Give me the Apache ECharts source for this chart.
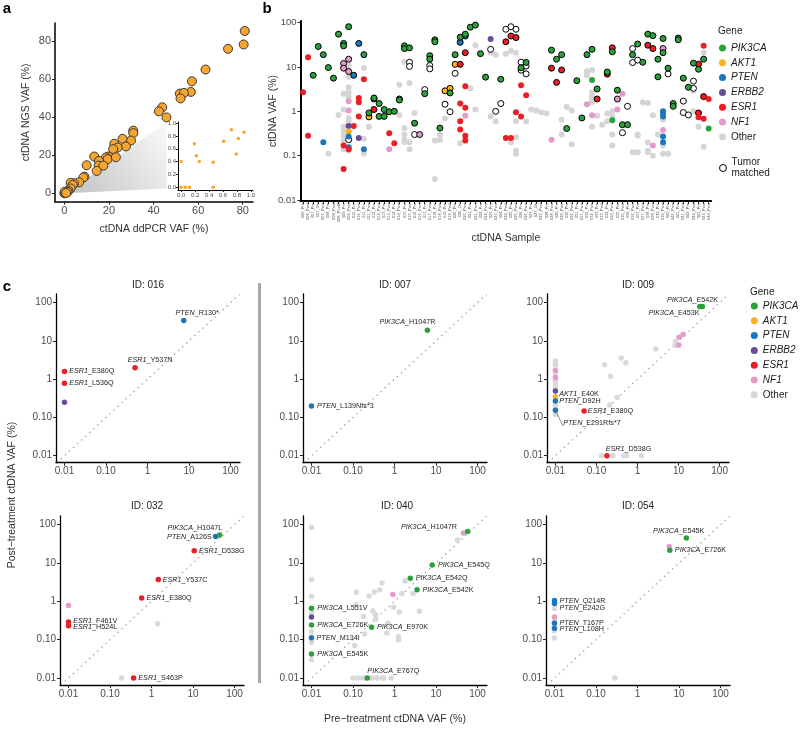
<!DOCTYPE html>
<html>
<head>
<meta charset="utf-8">
<script src="https://cdn.jsdelivr.net/npm/echarts@6.0.0/dist/echarts.min.js"></script>
<style>
html,body{margin:0;padding:0;background:#ffffff;}
#chart{width:800px;height:735px;}
</style>
</head>
<body>
<div id="chart"></div>
<script>
// ======================= DATA =======================
// Panel a: [ddPCR VAF %, NGS VAF %]
const aMain = [[80.9,85.5],[80.4,78.4],[73.4,76.1],[63.3,65.2],[57.2,59.0],[56.7,53.4],[51.8,52.5],[53.6,52.9],[52.1,50.0],
  [43.9,45.3],[42.4,43.2],[45.8,40.0],[30.9,33.0],[30.9,31.7],[29.9,27.8],[26.1,28.7],[27.6,24.7],[22.4,26.1],[23.9,24.1],
  [21.9,23.3],[19.7,19.4],[18.7,18.9],[19.4,18.0],[23.1,19.0],[13.4,19.4],[15.5,17.1],[15.4,14.6],[17.5,14.6],[14.5,11.8],
  [10.0,14.8],[9.0,8.8],[8.5,8.3],[6.6,5.8],[4.3,5.3],[2.8,5.5],[3.7,4.4],[2.8,2.6],[1.8,1.4],[1.0,0.5],[0,0],[0.5,0.3],
  [0.2,0.9],[1.4,0.8],[0.8,0.2]];
// Inset (0-1 % range)
const aInset = [[0,0.4],[0,0],[0.06,0],[0.12,0],[0.19,0.68],[0.22,0.49],[0.26,0.4],[0.46,0.39],[0.46,0],[0.61,0.72],
  [0.72,0.9],[0.82,0.76],[0.79,0.52],[0.9,0.86]];
// zoom wedge vertices (data space of panel a)
const aWedge = [[1.1,0],[45.9,37.8],[45.9,2.6]];
const aTicks = [0, 20, 40, 60, 80];
const aInsetTicks = [0, 0.2, 0.4, 0.6, 0.8, 1.0];

// Panel b: sample names
const sampleLabels = ['006_Pre','006_Post','007_Pre','007_On','007_Post','008_Pre','008_Post','008_Post2','009_Pre','009_Post',
  '010_Pre','010_Post','011_Pre','011_Post','012_Pre','012_Post','013_Pre','013_Post','014_Pre','014_Post','015_Pre','015_Post',
  '016_Pre','016_Post','017_Pre','017_Post','018_Pre','018_Post','019_Pre','019_Post','020_Pre','020_On','020_Post',
  '021_Pre','021_Post','022_Pre','022_Post','023_Pre','023_Post','024_Pre','024_Post','025_Pre','025_Post','026_Pre','026_Post',
  '027_Pre','027_On','027_Post','028_Pre','028_Post','029_Pre','029_Post','030_Pre','030_Post','031_Pre','031_Post',
  '032_Pre','032_Post','033_Pre','033_Post','034_Pre','034_Post','035_Pre','035_Post','036_Pre','036_Post','037_Pre','037_Post',
  '038_Pre','038_Post','039_Pre','039_Post','040_Pre','040_Post','041_Pre','041_Post','042_Pre','042_Post','043_Pre','043_Post','044_Post'];
const bTicks = [0.01, 0.1, 1, 10, 100];
// Panel b: [sample index, VAF %, tumor matched 1/0]
const bPIK3CA = [[2,6.5,1],[3,29,1],[4,19,1],[5,9.7,1],[6,5.6,1],[7,55,1],[8,34,1],[8,30,1],[9,81,1],[12,19,1],[13,0.92,1],
  [14,2.0,1],[15,1.5,1],[15,0.77,1],[16,1.1,1],[16,0.77,1],[17,0.98,1],[18,1.0,1],[19,1.9,1],[19,1.8,1],[20,30,1],[20,26,1],
  [21,27,1],[22,0.54,1],[24,2.5,1],[25,18,1],[25,15,1],[26,41,1],[26,37,1],[27,0.42,1],[29,2.6,1],[30,19,1],[31,47,1],
  [32,55,1],[33,79,1],[34,88,1],[35,20,1],[36,5.9,1],[39,5.3,1],[43,9.6,1],[44,12.7,1],[49,24,1],[50,15,1],[51,19,1],
  [52,0.41,1],[54,4.9,1],[55,0.71,1],[56,19,1],[57,25,1],[57,5.1,0],[58,3.2,1],[60,7.7,1],[61,22,1],[61,0.63,0],[62,3.0,1],
  [63,0.5,1],[64,0.5,1],[65,19,1],[66,33,1],[67,12.8,1],[68,55,1],[69,51,1],[70,15,1],[70,6.0,1],[71,44,1],[71,21,1],
  [72,9.4,1],[73,1.5,1],[73,1.3,1],[74,45,1],[74,41,1],[75,5.6,1],[76,3.5,1],[77,12.2,1],[78,8.9,1],[79,15,1],[80,0.41,0]];
const bAKT1 = [[9,0.35,0],[13,0.75,1],[14,1.9,1],[28,2.9,1],[29,3.3,1],[30,11.5,1]];
const bPTEN = [[4,0.2,0],[9,0.27,0],[9,0.155,0],[10,6.5,1],[11,34,1],[12,0.14,0],[31,36,1],[32,50,1],[71,1.0,0],[71,0.9,0],
  [71,0.77,0],[71,0.27,0],[71,0.2,0]];
const bERBB2 = [[9,0.47,0],[11,0.25,0],[37,43,0]];
const bESR1 = [[0,2.7,0],[1,16.6,0],[1,0.28,0],[8,0.17,0],[8,0.05,0],[9,0.14,0],[10,0.47,0],[11,2.0,0],[11,1.6,0],[11,0.77,0],
  [12,5.3,0],[14,1.1,1],[17,0.32,0],[18,0.19,0],[31,11.5,1],[31,1.5,0],[31,0.6,0],[31,0.39,0],[32,21,1],[32,3.7,0],[32,1.2,0],
  [32,0.28,0],[32,0.22,0],[40,37,1],[40,0.25,0],[41,50,1],[41,0.25,0],[42,46,1],[42,0.95,0],[43,3.9,0],[43,0.77,0],[44,2.3,0],
  [49,9.4,1],[50,4.5,1],[51,8.6,1],[58,1.9,1],[60,6.9,1],[61,27,1],[68,31,1],[69,26,1],[78,11.6,1],[78,0.92,1],[78,0.74,0],
  [79,30,0],[79,2.15,1],[79,0.68,0],[80,1.9,0]];
const bNF1 = [[8,12,1],[8,9.4,1],[9,15,1],[9,7.9,1],[9,1.7,0],[9,1.05,0],[17,0.14,0],[23,0.3,1],[32,0.8,0],[49,0.23,0],
  [56,1.45,0],[57,0.82,0],[62,1.9,1],[62,1.1,0],[63,2.5,0],[69,0.17,0],[71,26,1],[71,0.38,0]];
const bOther = [[5,0.11,0],[7,0.83,0],[8,2.5,0],[8,1.1,0],[8,0.45,0],[8,0.35,0],[8,0.28,0],[8,0.22,0],[8,0.14,0],
  [9,11,0],[9,6,0],[9,3.5,0],[9,2.7,0],[9,2.1,0],[9,0.7,0],[9,0.6,0],[9,0.5,0],[9,0.23,1],[9,0.13,0],
  [12,9.5,0],[12,0.24,0],[12,0.11,0],[13,0.45,0],[19,4.0,0],[19,0.83,0],[20,13,0],[20,0.42,0],[20,0.3,0],[20,0.23,0],[20,0.2,0],
  [21,12.8,1],[21,10.3,1],[21,4.3,0],[21,0.2,0],[21,0.14,0],[22,0.92,0],[22,0.3,1],[24,3.1,1],[25,10.8,1],[25,9.1,1],
  [26,0.22,0],[26,0.03,0],[27,0.3,0],[27,0.23,0],[28,1.45,1],[28,0.7,0],[29,0.98,1],[30,7.2,1],[31,0.19,0],[33,3.3,0],
  [34,31,0],[34,1.1,0],[37,25,1],[37,21,0],[37,0.77,0],[38,19,0],[38,1.0,1],[38,0.6,0],[39,1.5,1],[40,71,1],[40,20,0],
  [41,81,1],[41,23,0],[41,0.2,0],[42,71,1],[42,21,0],[42,0.6,0],[42,0.26,0],[42,0.13,0],[42,0.11,0],[43,12.8,1],[43,8.5,1],
  [44,10.5,1],[44,7.0,1],[44,0.6,0],[45,1.1,0],[46,1.05,0],[47,0.95,0],[48,0.9,0],[51,0.65,0],[51,0.3,0],[52,1.26,0],
  [53,1.05,0],[53,0.18,0],[56,8,0],[56,7,0],[56,6.5,0],[57,8.6,0],[57,2.7,0],[57,2.2,0],[57,1.9,0],[57,1.6,0],[57,0.45,0],
  [58,0.8,0],[59,0.5,0],[60,0.9,0],[60,0.6,0],[61,1.0,0],[61,0.75,0],[61,0.3,0],[61,0.17,0],[63,0.33,1],[64,1.3,1],
  [65,26,1],[65,12.6,1],[65,0.12,0],[66,14.3,1],[66,0.3,0],[66,0.28,0],[66,0.12,0],[67,1.6,0],[68,1.55,0],[68,0.2,0],
  [68,0.13,0],[68,0.12,0],[69,0.82,0],[69,0.1,0],[70,0.3,0],[71,0.65,0],[71,0.17,0],[71,0.11,0],[72,7.0,1],[72,0.11,0],
  [75,1.7,1],[75,0.94,1],[76,0.83,1],[77,4.8,1],[77,3.3,1],[77,2.9,0],[77,1.0,0],[78,0.45,0],[79,21,0],[79,0.16,0]];

// Panel c: [pre-treatment VAF %, post-treatment VAF %, gene, mutation label ('' = none)]
const c016 = [[7.5,34,'PTEN','R130*'],[0.5,2.0,'ESR1','Y537N'],[0.01,1.6,'ESR1','E380Q'],[0.01,0.78,'ESR1','L536Q'],[0.01,0.25,'ERBB2','']];
const c007 = [[6.2,19,'PIK3CA','H1047R'],[0.01,0.2,'PTEN','L139Nfs*3']];
const c009 = [[33,80,'PIK3CA','E542K'],[38,80,'PIK3CA','E453K'],[12.9,14.8,'NF1',''],[10.3,12.4,'NF1',''],[10.2,7.8,'NF1',''],
  [8.4,9.6,'Other',''],[8.3,7.5,'Other',''],[2.8,6.2,'Other',''],[0.4,3.6,'Other',''],[0.52,2.7,'Other',''],[0.157,2.4,'Other',''],
  [0.22,1.2,'Other',''],[0.32,0.33,'Other',''],[0.21,0.21,'Other',''],[0.135,0.01,'Other',''],[0.25,0.01,'Other',''],
  [0.46,0.01,'Other',''],[0.54,0.01,'Other',''],[1.26,0.01,'Other',''],[0.18,0.01,'ESR1','D538G'],[0.05,0.148,'ESR1','E380Q'],
  [0.01,3.0,'Other',''],[0.01,2.6,'Other',''],[0.01,2.3,'Other',''],[0.01,1.4,'Other',''],[0.01,0.9,'Other',''],[0.01,0.75,'Other',''],
  [0.01,0.6,'Other',''],[0.01,0.2,'Other',''],[0.01,0.12,'Other',''],[0.01,1.7,'NF1',''],[0.01,1.1,'NF1',''],
  [0.01,0.49,'ERBB2',''],[0.01,0.35,'AKT1','E40K'],[0.01,0.27,'PTEN','D92H'],[0.01,0.155,'PTEN','E291Rfs*7']];
const c032 = [[44,54,'PIK3CA','H1047L'],[35,49,'PTEN','A126S'],[10.7,21,'ESR1','D538G'],[1.46,3.7,'ESR1','Y537C'],
  [0.58,1.23,'ESR1','E380Q'],[0.01,0.78,'NF1',''],[0.01,0.29,'ESR1','F461V'],[0.01,0.23,'ESR1','H524L'],[1.4,0.26,'Other',''],
  [0.19,0.01,'Other',''],[0.37,0.01,'ESR1','S463P']];
const c040 = [[58,66,'PIK3CA','H1047R'],[46,61,'NF1',''],[33,40,'Other',''],[8.1,8.9,'PIK3CA','E545Q'],[2.4,4.0,'PIK3CA','E542Q'],
  [3.5,2.0,'PIK3CA','E542K'],[0.91,1.5,'NF1',''],[0.28,0.21,'PIK3CA','E970K'],[0.22,0.01,'PIK3CA','E767Q'],
  [0.01,85,'Other',''],[0.01,3.7,'Other',''],[0.01,1.34,'Other',''],[0.01,0.66,'PIK3CA','L551V'],[0.01,0.5,'Other',''],
  [0.01,0.39,'ERBB2',''],[0.01,0.24,'PIK3CA','E726K'],[0.01,0.16,'Other',''],[0.01,0.113,'PTEN','M134I'],[0.01,0.086,'Other',''],
  [0.01,0.042,'PIK3CA','E545K'],[0.01,0.03,'Other',''],
  [0.12,1.74,'Other',''],[0.245,1.38,'Other',''],[0.33,1.76,'Other',''],[0.44,2.0,'Other',''],[0.5,3.0,'Other',''],[1.8,3.4,'Other',''],
  [1.5,1.6,'Other',''],[2.8,1.6,'Other',''],[4.0,0.55,'Other',''],[1.3,0.53,'Other',''],[0.95,0.7,'Other',''],[0.3,0.56,'Other',''],
  [0.35,0.45,'Other',''],[0.35,0.34,'Other',''],[0.12,0.82,'Other',''],[0.18,0.4,'Other',''],[0.19,0.14,'Other',''],
  [0.11,0.07,'Other',''],[0.65,0.15,'Other',''],[1.25,0.12,'Other',''],[1.25,0.1,'Other',''],[0.7,0.27,'Other',''],
  [0.1,0.01,'Other',''],[0.13,0.01,'Other',''],[0.17,0.01,'Other',''],[0.2,0.01,'Other',''],[0.24,0.01,'Other',''],
  [0.29,0.01,'Other',''],[0.38,0.01,'Other',''],[0.5,0.01,'Other',''],[0.55,0.01,'Other',''],[0.83,0.01,'Other','']];
const c054 = [[15,45,'PIK3CA','E545K'],[5.8,27,'NF1',''],[6.0,21.4,'PIK3CA','E726K'],[0.01,1.05,'PTEN','Q214R'],
  [0.01,0.88,'PTEN','E242G'],[0.01,0.65,'Other',''],[0.01,0.39,'NF1',''],[0.01,0.33,'Other',''],[0.01,0.27,'PTEN','T167P'],
  [0.01,0.2,'PTEN','L108H'],[0.01,0.17,'Other',''],[0.01,0.11,'Other',''],[0.285,0.01,'Other','']];
const cDiagonal = [[0.0082,0.0082],[165,165]];
const cTicks = [0.01, 0.1, 1, 10, 100];

const geneNames = ['PIK3CA','AKT1','PTEN','ERBB2','ESR1','NF1','Other'];

// ======================= STYLE =======================
const FONT = '"Liberation Sans", Arial, Helvetica, sans-serif';
const TICK_TXT = '#4d4d4d';
const geneColors = {PIK3CA:'#2ba13c', AKT1:'#fab31d', PTEN:'#1c76bd', ERBB2:'#6a4b9a', ESR1:'#ec1d25', NF1:'#e39bca', Other:'#d5d5d5'};
const drawOrder = ['Other','NF1','ERBB2','AKT1','PTEN','ESR1','PIK3CA'];
// ggrepel-like label placement (position, offset px, connector)
const cLabelPlacement = {
  '016:PTEN_R130*': ['right',[-11,-8]],
  '016:ESR1_Y537N': ['right',[-10,-8]],
  '016:ESR1_E380Q': ['right',[2,0]],
  '016:ESR1_L536Q': ['right',[2,0]],
  '007:PIK3CA_H1047R': ['left',[10.7,-8.3]],
  '007:PTEN_L139Nfs*3': ['right',[2.7,0]],
  '009:PIK3CA_E542K': ['left',[21,-6.7]],
  '009:PIK3CA_E453K': ['left',[0,6.3]],
  '009:ESR1_E380Q': ['right',[1,0]],
  '009:ESR1_D538G': ['right',[-4,-7]],
  '009:AKT1_E40K': ['right',[1,-2.4]],
  '009:PTEN_D92H': ['right',[1,0]],
  '009:PTEN_E291Rfs*7': ['right',[5,12.7],true],
  '032:PIK3CA_H1047L': ['left',[5.3,-6.6]],
  '032:PTEN_A126S': ['left',[-1,0.7]],
  '032:ESR1_D538G': ['right',[2,0]],
  '032:ESR1_Y537C': ['right',[1.7,0]],
  '032:ESR1_E380Q': ['right',[2,0]],
  '032:ESR1_F461V': ['right',[2,-1]],
  '032:ESR1_H524L': ['right',[2,1]],
  '032:ESR1_S463P': ['right',[2,0]],
  '040:PIK3CA_H1047R': ['left',[-8,-4.3]],
  '040:PIK3CA_E545Q': ['right',[3,0]],
  '040:PIK3CA_E542Q': ['right',[2.7,0]],
  '040:PIK3CA_E542K': ['right',[2.6,0]],
  '040:PIK3CA_E970K': ['right',[2.6,0]],
  '040:PIK3CA_E767Q': ['right',[-2.6,-6.7]],
  '040:PIK3CA_L551V': ['right',[3,0]],
  '040:PIK3CA_E726K': ['right',[3,0]],
  '040:PTEN_M134I': ['right',[2.3,0]],
  '040:PIK3CA_E545K': ['right',[3,0]],
  '054:PIK3CA_E545K': ['left',[20.7,-6.7]],
  '054:PIK3CA_E726K': ['right',[2.3,0]],
  '054:PTEN_Q214R': ['right',[2.3,0]],
  '054:PTEN_E242G': ['right',[2.3,5]],
  '054:PTEN_T167P': ['right',[2.3,0]],
  '054:PTEN_L108H': ['right',[2.3,0.7]]
};
const cPanels = [
  {id:'016', rows:c016, grid:{left:56, top:294, width:184, height:168.7}, title:[148,285]},
  {id:'007', rows:c007, grid:{left:303, top:294, width:184, height:168.7}, title:[395,285]},
  {id:'009', rows:c009, grid:{left:547, top:294, width:182, height:168.7}, title:[638,285]},
  {id:'032', rows:c032, grid:{left:60, top:516, width:184, height:169}, title:[147,506]},
  {id:'040', rows:c040, grid:{left:303, top:516, width:184, height:169}, title:[397,506]},
  {id:'054', rows:c054, grid:{left:546, top:516, width:184, height:169}, title:[638,506]}
];

function decLabel(v, arr){ const e = Math.round(Math.log10(v)); return arr[e+2]; }
const cFmt = v => decLabel(v, ['0.01','0.10','1','10','100']);
const bFmt = v => decLabel(v, ['0.01','0.1','1','10','100']);

function axisCommon(o){
  return Object.assign({
    splitLine:{show:false},
    nameMoveOverlap:false,
    axisLine:{show:true, onZero:false, lineStyle:{color:'#000', width:o.lw || 1.4}},
    axisTick:{show:true, customValues:o.ticks, length:o.tl || 3, lineStyle:{color:'#222', width:1}},
    axisLabel:{customValues:o.ticks, formatter:o.fmt, color:TICK_TXT, fontSize:o.fs || 10, fontFamily:FONT, margin:o.margin || 4}
  }, o.extra || {});
}

// ======================= BUILD =======================
const grids = [
  {left:55, top:23, width:198, height:178.7},
  {left:178, top:122, width:75, height:68},
  {left:300.5, top:21, width:410.7, height:180}
].concat(cPanels.map(p => p.grid)).map(g => Object.assign({containLabel:false, outerBoundsMode:'none'}, g));

const xAxes = [], yAxes = [], series = [];

// ---- panel a
xAxes.push(axisCommon({ticks:aTicks, fs:11, lw:1.5, extra:{type:'value', gridIndex:0, min:-4.2, max:84.6,
  name:'ctDNA ddPCR VAF (%)', nameLocation:'middle', nameGap:22, nameTextStyle:{fontSize:10.5, color:'#333', fontFamily:FONT}}}));
yAxes.push(axisCommon({ticks:aTicks, fs:11, lw:1.5, extra:{type:'value', gridIndex:0, min:-4.4, max:89.7,
  name:'ctDNA NGS VAF (%)', nameLocation:'middle', nameGap:23, nameTextStyle:{fontSize:10.5, color:'#333', fontFamily:FONT}}}));
xAxes.push(axisCommon({ticks:aInsetTicks, fs:6, lw:1, tl:2, margin:2, fmt:v=>v.toFixed(1), extra:{type:'value', gridIndex:1, min:-0.045, max:1.03}}));
yAxes.push(axisCommon({ticks:aInsetTicks, fs:6, lw:1, tl:2, margin:2, fmt:v=>v.toFixed(1), extra:{type:'value', gridIndex:1, min:-0.045, max:1.02}}));

series.push({type:'custom', xAxisIndex:0, yAxisIndex:0, silent:true, z:1, data:[0],
  renderItem:(params, api) => ({type:'polygon', shape:{points:aWedge.map(p => api.coord(p))},
    style:{fill:new echarts.graphic.LinearGradient(0,1,1,0,[{offset:0,color:'#c2c2c2'},{offset:1,color:'#fafafa'}])}})});
series.push({type:'scatter', xAxisIndex:0, yAxisIndex:0, data:aMain, symbolSize:9, z:3,
  itemStyle:{color:'#f6a52e', borderColor:'#3a3a3a', borderWidth:1, opacity:1}, emphasis:{disabled:true}});
series.push({type:'scatter', xAxisIndex:1, yAxisIndex:1, data:aInset, symbolSize:3.5, z:3,
  itemStyle:{color:'#f6a52e', opacity:1}, emphasis:{disabled:true}});

// ---- panel b
xAxes.push({type:'category', gridIndex:2, data:sampleLabels, boundaryGap:true,
  axisLine:{show:true, onZero:false, lineStyle:{color:'#000', width:2}},
  axisTick:{show:true, alignWithLabel:true, interval:0, length:3, lineStyle:{color:'#222'}},
  axisLabel:{interval:0, rotate:90, fontSize:4, color:'#555', fontFamily:FONT, margin:2},
  splitLine:{show:false}, nameMoveOverlap:false,
  name:'ctDNA Sample', nameLocation:'middle', nameGap:32, nameTextStyle:{fontSize:10.5, color:'#333', fontFamily:FONT}});
yAxes.push(axisCommon({ticks:bTicks, fmt:bFmt, fs:9.5, lw:2, extra:{type:'log', logBase:10, gridIndex:2, min:0.00951, max:109,
  name:'ctDNA VAF (%)', nameLocation:'middle', nameGap:22, nameTextStyle:{fontSize:10.5, color:'#333', fontFamily:FONT}}}));

const bData = {PIK3CA:bPIK3CA, AKT1:bAKT1, PTEN:bPTEN, ERBB2:bERBB2, ESR1:bESR1, NF1:bNF1, Other:bOther};
const matchedBorder = {borderColor:'#000', borderWidth:1};
series.push({type:'scatter', name:'Other', xAxisIndex:2, yAxisIndex:2, symbolSize:6, z:2,
  data:bOther.filter(r => !r[2]).map(r => [r[0], r[1]]), itemStyle:{color:geneColors.Other, opacity:1}, emphasis:{disabled:true}});
series.push({type:'scatter', name:'Tumor matched', xAxisIndex:2, yAxisIndex:2, symbolSize:6, z:3,
  data:bOther.filter(r => r[2]).map(r => [r[0], r[1]]), itemStyle:{color:'#ffffff', borderColor:'#000', borderWidth:1, opacity:1}, emphasis:{disabled:true}});
drawOrder.filter(g => g !== 'Other').forEach(g => {
  series.push({type:'scatter', name:g, xAxisIndex:2, yAxisIndex:2, symbolSize:6, z:4,
    data:bData[g].map(r => r[2] ? {value:[r[0], r[1]], itemStyle:matchedBorder} : {value:[r[0], r[1]]}),
    itemStyle:{color:geneColors[g], opacity:1}, emphasis:{disabled:true}});
});

// ---- panel c
const cRich = {
  g:{fontStyle:'italic', fontSize:7.2, fontFamily:FONT, color:'#222'},
  m:{fontSize:7.2, fontFamily:FONT, color:'#222'}
};
const cLabelFmt = p => { const n = p.name; const k = n.indexOf('_'); return '{g|' + n.slice(0,k) + '}{m|' + n.slice(k) + '}'; };
cPanels.forEach((p, i) => {
  const gi = 3 + i;
  xAxes.push(axisCommon({ticks:cTicks, fmt:cFmt, fs:10, lw:1.3, extra:{type:'log', logBase:10, gridIndex:gi, min:0.00624, max:169.4}}));
  yAxes.push(axisCommon({ticks:cTicks, fmt:cFmt, fs:10, lw:1.3, extra:{type:'log', logBase:10, gridIndex:gi, min:0.00656, max:168.7}}));
  series.push({type:'line', xAxisIndex:gi, yAxisIndex:gi, data:cDiagonal, symbol:'none', silent:true, z:1,
    lineStyle:{color:'#9a9a9a', width:1.3, type:[1.3,4.2]}});
  drawOrder.forEach(g => {
    const rows = p.rows.filter(r => r[2] === g);
    if (!rows.length) return;
    const items = rows.map(r => {
      const it = {value:[r[0], r[1]], name: r[3] ? g + '_' + r[3] : ''};
      if (r[3]) {
        const lp = cLabelPlacement[p.id + ':' + it.name] || ['right',[2,0]];
        it.label = {show:true, position:lp[0], offset:lp[1]};
        if (lp[2]) it.labelLine = {show:true, lineStyle:{color:'#444', width:0.6}};
      }
      return it;
    });
    series.push({type:'scatter', name:g, xAxisIndex:gi, yAxisIndex:gi, symbolSize:5.5, z: g === 'Other' ? 2 : 3,
      data:items, itemStyle:{color: g === 'Other' ? '#d9d9d9' : geneColors[g], opacity:1},
      label:{show:false, distance:0, formatter:cLabelFmt, rich:cRich}, labelLine:{show:false},
      emphasis:{disabled:true}});
  });
});

// ---- legends
const legendFmt = n => (n === 'Other') ? '{n|Other}' : (n === 'Tumor matched' ? '{n|Tumor}\n{n|matched}' : '{i|' + n + '}');
const legendText = {fontSize:10, color:'#1a1a1a', fontFamily:FONT,
  rich:{i:{fontStyle:'italic', fontSize:10, lineHeight:11, fontFamily:FONT, color:'#1a1a1a'}, n:{fontSize:10, lineHeight:11, fontFamily:FONT, color:'#1a1a1a'}}};
const legends = [
  {orient:'vertical', left:719, top:43, itemWidth:7, itemHeight:7, itemGap:4.8, icon:'circle', selectedMode:false,
    data:geneNames, formatter:legendFmt, textStyle:legendText, padding:0},
  {orient:'vertical', left:719, top:157.5, itemWidth:7, itemHeight:7, icon:'circle', selectedMode:false, padding:0,
    data:[{name:'Tumor matched', itemStyle:{color:'#fff', borderColor:'#000', borderWidth:1}}], formatter:legendFmt, textStyle:legendText},
  {orient:'vertical', left:750.8, top:301, itemWidth:7, itemHeight:7, itemGap:4.8, icon:'circle', selectedMode:false,
    data:geneNames, formatter:legendFmt, textStyle:legendText, padding:0}
];

// ---- free text & decorations
const txt = (x, y, text, extra) => ({type:'text', x:x, y:y, silent:true,
  style:Object.assign({text:text, fill:'#1a1a1a', font:'10px ' + FONT, align:'center', verticalAlign:'middle'}, extra || {})});
const graphic = [
  txt(7, 9, 'a', {font:'bold 15px ' + FONT, fill:'#000'}),
  txt(267, 9, 'b', {font:'bold 15px ' + FONT, fill:'#000'}),
  txt(7, 287, 'c', {font:'bold 15px ' + FONT, fill:'#000'}),
  txt(718, 31, 'Gene', {align:'left'}),
  txt(750, 292, 'Gene', {align:'left'}),
  {type:'rect', silent:true, shape:{x:258, y:283, width:3, height:400}, style:{fill:'#a9a9a9'}},
  txt(395, 719, 'Pre\u2212treatment ctDNA VAF (%)', {font:'10.5px ' + FONT, fill:'#333'}),
  Object.assign(txt(12, 495, 'Post\u2212treatment ctDNA VAF (%)', {font:'10.5px ' + FONT, fill:'#333'}), {rotation:Math.PI/2})
].concat(cPanels.map(p => txt(p.title[0], p.title[1], 'ID: ' + p.id, {fill:'#222'})));

const option = {
  animation:false,
  backgroundColor:'#ffffff',
  textStyle:{fontFamily:FONT},
  grid:grids, xAxis:xAxes, yAxis:yAxes, legend:legends, graphic:graphic, series:series
};
const chart = echarts.init(document.getElementById('chart'), null, {renderer:'canvas'});
chart.setOption(option);
</script>
</body>
</html>
